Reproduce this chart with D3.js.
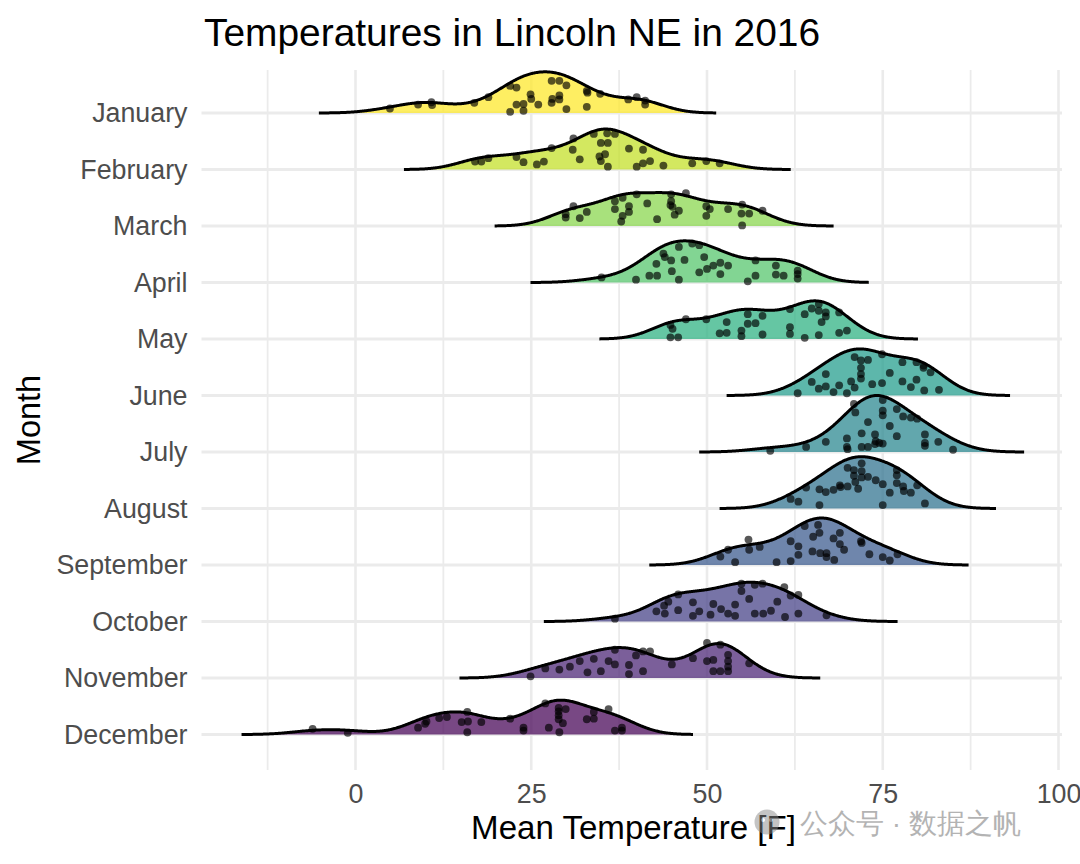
<!DOCTYPE html>
<html><head><meta charset="utf-8">
<script src="https://cdn.jsdelivr.net/npm/d3@7"></script>
<style>
body{margin:0;background:#fff}
svg{display:block}
text{font-family:"Liberation Sans", Arial, Helvetica, sans-serif}
</style>
</head><body>
<svg id="chart" width="1080" height="864"></svg>
<script>
// ---------------- data ----------------
const months = ["January","February","March","April","May","June","July","August","September","October","November","December"];

// each point: [mean temperature (F), vertical jitter as fraction of a ridge row]
const january = [[4.9,0.08],[8.9,0.15],[10.8,0.19],[10.9,0.14],[16.9,0.18],[18.9,0.28],[22.0,0.48],[22.9,0.45],[22.0,0.02],[22.9,0.15],[23.9,0.04],[23.9,0.16],[24.9,0.33],[25.0,0.25],[26.0,0.15],[27.9,0.57],[29.0,0.57],[30.0,0.49],[27.9,0.18],[28.0,0.25],[29.0,0.31],[29.0,0.24],[30.0,0.07],[32.9,0.39],[33.0,0.36],[32.9,0.11],[34.8,0.34],[38.8,0.24],[40.0,0.28],[41.2,0.22],[41.2,0.15]];
const february = [[17.0,0.14],[17.9,0.14],[18.9,0.20],[22.9,0.22],[23.9,0.13],[25.8,0.09],[26.8,0.14],[27.9,0.38],[31.0,0.55],[30.9,0.35],[31.9,0.18],[33.9,0.63],[34.9,0.47],[35.9,0.47],[35.8,0.64],[36.9,0.63],[34.7,0.23],[34.9,0.15],[35.9,0.05],[38.9,0.37],[40.9,0.35],[40.0,0.05],[40.9,0.11],[41.9,0.15],[43.8,0.07],[47.9,0.11],[49.9,0.15],[51.8,0.11],[35.5,0.27]];
const march = [[29.9,0.21],[29.9,0.15],[31.0,0.35],[31.9,0.14],[32.9,0.25],[36.9,0.44],[38.0,0.50],[36.9,0.30],[38.9,0.35],[38.9,0.25],[38.0,0.18],[40.0,0.56],[42.9,0.12],[44.9,0.56],[44.9,0.44],[44.8,0.37],[45.1,0.34],[46.0,0.27],[47.0,0.58],[49.9,0.35],[49.9,0.18],[53.0,0.30],[55.0,0.38],[54.9,0.22],[56.0,0.22],[55.0,0.01],[57.9,0.27],[45.4,0.20],[41.5,0.40],[50.4,0.30],[37.8,0.08]];
const april = [[35.0,0.09],[39.9,0.05],[41.8,0.12],[42.9,0.12],[42.8,0.33],[43.8,0.51],[44.0,0.45],[44.9,0.39],[46.0,0.63],[46.0,0.05],[47.9,0.69],[48.9,0.66],[48.9,0.18],[50.0,0.24],[50.9,0.30],[51.9,0.35],[53.0,0.30],[51.9,0.15],[55.8,0.02],[56.9,0.39],[56.9,0.12],[59.8,0.30],[59.8,0.14],[60.9,0.12],[62.9,0.21],[62.9,0.15],[62.9,0.07],[46.8,0.40],[45.0,0.20],[49.6,0.45]];
const may = [[44.8,0.25],[44.8,0.03],[45.9,0.03],[47.0,0.35],[49.9,0.35],[51.8,0.10],[52.8,0.11],[52.8,0.30],[54.9,0.15],[54.9,0.05],[55.8,0.44],[55.8,0.27],[56.9,0.28],[57.9,0.41],[57.9,0.08],[61.8,0.53],[61.8,0.21],[61.8,0.09],[63.9,0.44],[63.9,0.02],[64.9,0.54],[65.9,0.62],[65.9,0.50],[66.9,0.47],[66.9,0.40],[65.9,0.07],[68.8,0.47],[68.8,0.11],[69.9,0.15],[45.1,0.18],[66.3,0.30]];
const june = [[62.9,0.04],[64.9,0.24],[65.9,0.12],[66.9,0.38],[66.9,0.16],[68.8,0.18],[69.9,0.04],[71.0,0.14],[71.0,0.68],[71.9,0.62],[72.9,0.63],[71.9,0.49],[71.9,0.38],[71.9,0.30],[74.9,0.73],[74.9,0.22],[77.8,0.59],[77.8,0.25],[79.8,0.59],[79.8,0.28],[80.8,0.53],[80.8,0.49],[80.9,0.09],[81.8,0.41],[83.0,0.10],[79.0,0.15],[76.0,0.40],[73.5,0.20],[70.5,0.25],[68.0,0.06]];
const july = [[59.0,0.02],[64.1,0.09],[66.9,0.18],[69.9,0.24],[69.9,0.09],[70.0,0.05],[70.9,0.85],[71.1,0.70],[72.0,0.33],[72.0,0.09],[72.9,0.53],[72.9,0.09],[73.9,0.31],[73.9,0.14],[74.0,0.19],[75.0,0.92],[75.0,0.73],[75.0,0.65],[75.0,0.15],[76.0,0.46],[77.0,0.76],[77.0,0.28],[77.9,0.63],[79.0,0.61],[79.9,0.59],[81.0,0.31],[81.0,0.16],[81.0,0.11],[82.9,0.18],[85.0,0.04],[74.5,0.16]];
const august = [[61.9,0.17],[63.0,0.12],[64.1,0.37],[66.0,0.34],[66.0,0.06],[66.9,0.29],[68.0,0.33],[68.9,0.41],[69.0,0.38],[70.0,0.39],[70.0,0.72],[70.9,0.68],[70.9,0.58],[71.1,0.47],[72.0,0.80],[72.0,0.66],[72.0,0.55],[72.9,0.56],[75.0,0.43],[75.0,0.06],[76.0,0.28],[77.0,0.68],[77.0,0.59],[77.0,0.45],[77.9,0.39],[78.0,0.31],[79.0,0.28],[79.9,0.41],[81.0,0.09],[71.5,0.35],[74.0,0.50]];
const september = [[51.9,0.15],[53.0,0.27],[54.0,0.05],[55.9,0.45],[56.0,0.27],[59.9,0.05],[61.9,0.42],[61.9,0.07],[63.0,0.33],[63.9,0.69],[65.0,0.24],[65.8,0.71],[66.0,0.57],[66.1,0.21],[67.0,0.21],[67.0,0.14],[68.0,0.47],[68.1,0.09],[68.9,0.57],[68.9,0.37],[71.9,0.42],[72.0,0.39],[73.1,0.19],[75.0,0.14],[76.0,0.08],[77.1,0.19],[65.1,0.50],[63.0,0.18],[69.5,0.27],[57.5,0.32]];
const october = [[36.9,0.05],[42.8,0.18],[43.9,0.28],[44.0,0.14],[45.9,0.48],[45.9,0.20],[48.0,0.34],[48.0,0.10],[48.9,0.18],[50.9,0.31],[53.0,0.14],[54.0,0.30],[54.0,0.10],[54.9,0.67],[54.9,0.54],[56.8,0.14],[56.8,0.65],[57.9,0.67],[58.0,0.14],[59.1,0.19],[61.0,0.61],[61.1,0.08],[61.9,0.46],[63.0,0.47],[63.0,0.14],[67.0,0.11],[44.5,0.35],[52.0,0.22],[56.0,0.40],[60.0,0.35],[50.5,0.12]];
const november = [[24.9,0.03],[27.0,0.17],[29.0,0.15],[31.9,0.30],[33.0,0.10],[33.9,0.34],[34.9,0.12],[36.0,0.30],[36.9,0.50],[36.9,0.24],[38.9,0.23],[38.9,0.07],[39.9,0.40],[40.9,0.47],[40.9,0.12],[41.9,0.47],[45.0,0.24],[48.0,0.35],[50.0,0.62],[50.0,0.30],[50.9,0.32],[51.9,0.59],[53.0,0.41],[53.0,0.30],[53.0,0.20],[53.0,0.12],[50.9,0.12],[51.9,0.12],[56.0,0.26],[30.5,0.20]];
const december = [[-6.1,0.10],[-1.1,0.03],[8.9,0.12],[9.9,0.19],[10.1,0.23],[11.9,0.29],[13.0,0.31],[15.1,0.22],[15.9,0.40],[16.0,0.23],[15.9,0.04],[17.9,0.22],[22.0,0.28],[23.9,0.12],[23.9,0.07],[27.0,0.55],[28.9,0.47],[28.9,0.41],[28.9,0.34],[28.9,0.27],[29.9,0.45],[29.0,0.04],[32.9,0.27],[33.9,0.40],[33.9,0.28],[36.0,0.45],[36.9,0.07],[37.9,0.12],[37.9,0.07],[29.5,0.20],[27.5,0.12]];

const monthData = [january, february, march, april, may, june, july, august, september, october, november, december];

const xMajorTicks = [0, 25, 50, 75, 100];
const xMinorTicks = [-12.5, 12.5, 37.5, 62.5, 87.5];

const titleText = "Temperatures in Lincoln NE in 2016";
const xTitleText = "Mean Temperature [F]";
const yTitleText = "Month";
const watermarkText = "公众号 · 数据之帆";

// joint kernel bandwidth (as picked by ggridges)
const bandwidth = 3.37;

// ---------------- layout ----------------
const svg = d3.select("#chart");
const panel = {left: 201.5, right: 1062, top: 70, bottom: 770};
const x = d3.scaleLinear().domain([0, 100]).range([355.5, 1058.5]);
const y = d3.scalePoint().domain(months).range([113, 734.5]);
const step = y.step();
const ridgeScale = 1.0;

// viridis fill, December = 0 ... January = 1
const fillColor = d3.scaleOrdinal().domain(months)
  .range(months.map((m, i) => d3.interpolateViridis((months.length - 1 - i) / (months.length - 1))));

// ---------------- density (ggridges-like) ----------------
const temps = monthData.map(d => d.map(p => p[0]));
function kde(v) {
  const bw = bandwidth;
  const lo = d3.min(v) - 3 * bw, hi = d3.max(v) + 3 * bw, n = 512;
  const out = [];
  const norm = 1 / (v.length * bw * Math.sqrt(2 * Math.PI));
  for (let i = 0; i < n; i++) {
    const xx = lo + (hi - lo) * i / (n - 1);
    let s = 0;
    for (const t of v) { const u = (xx - t) / bw; s += Math.exp(-0.5 * u * u); }
    out.push([xx, s * norm]);
  }
  return out;
}
const dens = temps.map(kde);
const maxD = d3.max(dens, d => d3.max(d, p => p[1]));

// ---------------- grid ----------------
const grid = svg.append("g");
grid.selectAll("line.minor").data(xMinorTicks).join("line")
  .attr("x1", d => x(d)).attr("x2", d => x(d))
  .attr("y1", panel.top).attr("y2", panel.bottom)
  .attr("stroke", "#ebebeb").attr("stroke-width", 1.8);
grid.selectAll("line.major").data(xMajorTicks).join("line")
  .attr("x1", d => x(d)).attr("x2", d => x(d))
  .attr("y1", panel.top).attr("y2", panel.bottom)
  .attr("stroke", "#ebebeb").attr("stroke-width", 2.6);
grid.selectAll("line.h").data(months).join("line")
  .attr("x1", panel.left).attr("x2", panel.right)
  .attr("y1", d => y(d)).attr("y2", d => y(d))
  .attr("stroke", "#ebebeb").attr("stroke-width", 2.8);

// ---------------- ridges ----------------
const ridges = svg.append("g");
months.forEach((m, i) => {
  const base = y(m);
  const hy = v => base - v / maxD * step * ridgeScale;
  const g = ridges.append("g");
  g.append("path").datum(dens[i])
    .attr("d", d3.area().x(d => x(d[0])).y0(base).y1(d => hy(d[1])))
    .attr("fill", fillColor(m)).attr("fill-opacity", 0.72);
  g.selectAll("circle").data(monthData[i]).join("circle")
    .attr("cx", d => x(d[0])).attr("cy", d => base - d[1] * step)
    .attr("r", 3.9).attr("fill", "#000").attr("fill-opacity", 0.66);
  g.append("path").datum(dens[i])
    .attr("d", d3.line().x(d => x(d[0])).y(d => hy(d[1])))
    .attr("fill", "none").attr("stroke", "#000").attr("stroke-width", 3)
    .attr("stroke-linejoin", "round");
});

// ---------------- axes ----------------
const xAxis = svg.append("g").attr("transform", `translate(0,${panel.bottom})`)
  .call(d3.axisBottom(x).tickValues(xMajorTicks).tickSize(0).tickPadding(13.5).tickFormat(d3.format("d")));
xAxis.select(".domain").remove();
xAxis.selectAll("text").attr("font-size", 26.8).attr("fill", "#4d4d4d")
  .attr("font-family", "'Liberation Sans', Arial, sans-serif");

const yAxis = svg.append("g").attr("transform", `translate(${panel.left},0)`)
  .call(d3.axisLeft(y).tickSize(0).tickPadding(14));
yAxis.select(".domain").remove();
yAxis.selectAll("text").attr("font-size", 26.8).attr("fill", "#4d4d4d")
  .attr("font-family", "'Liberation Sans', Arial, sans-serif");

// ---------------- titles ----------------
svg.append("text").attr("x", 204).attr("y", 46).attr("font-size", 38.9).attr("fill", "#000")
  .text(titleText);
svg.append("text").attr("x", 633.5).attr("y", 839).attr("text-anchor", "middle")
  .attr("font-size", 33.1).attr("fill", "#000").text(xTitleText);
svg.append("text").attr("transform", "translate(40,420) rotate(-90)").attr("text-anchor", "middle")
  .attr("font-size", 32.5).attr("fill", "#000").text(yTitleText);

// ---------------- watermark ----------------
const wm = svg.append("g").attr("opacity", 0.5);
wm.append("circle").attr("cx", 767).attr("cy", 822).attr("r", 12.5).attr("fill", "#8a8a8a");
wm.append("circle").attr("cx", 763).attr("cy", 820).attr("r", 2).attr("fill", "#fff");
wm.append("circle").attr("cx", 771).attr("cy", 820).attr("r", 2).attr("fill", "#fff");
wm.append("text").attr("x", 800).attr("y", 833).attr("font-size", 28)
  .attr("font-family", "'Noto Sans CJK SC', sans-serif").attr("fill", "#6a6a6a")
  .text(watermarkText);
</script>
</body></html>
